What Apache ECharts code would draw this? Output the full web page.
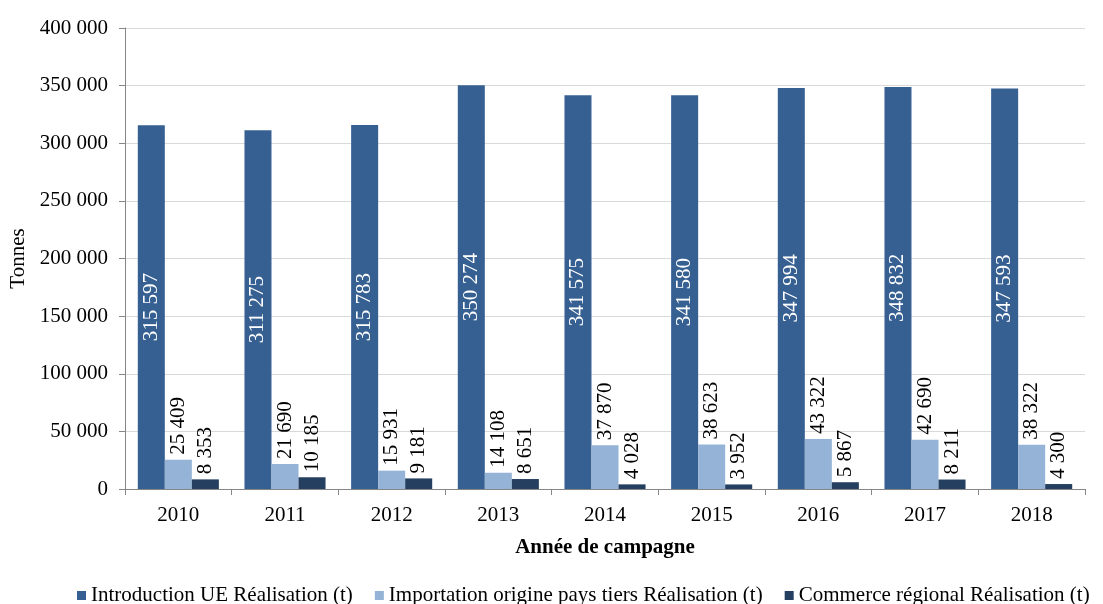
<!DOCTYPE html>
<html><head><meta charset="utf-8">
<script src="https://cdn.jsdelivr.net/npm/echarts@6/dist/echarts.min.js"></script>
<style>html,body{margin:0;padding:0;background:#fff}#c{width:1103px;height:604px}</style>
</head><body><div id="c"></div>
<script>
const categories = ['2010','2011','2012','2013','2014','2015','2016','2017','2018'];
const introUE = [315597, 311275, 315783, 350274, 341575, 341580, 347994, 348832, 347593];
const importTiers = [25409, 21690, 15931, 14108, 37870, 38623, 43322, 42690, 38322];
const commerceReg = [8353, 10185, 9181, 8651, 4028, 3952, 5867, 8211, 4300];
const seriesNames = ['Introduction UE Réalisation (t)', 'Importation origine pays tiers Réalisation (t)', 'Commerce régional Réalisation (t)'];

const fmt = v => String(v).replace(/\B(?=(\d{3})+(?!\d))/g, ' ');
const FONT = '"Liberation Serif", "Times New Roman", serif';
const FS = 21;
const chart = echarts.init(document.getElementById('c'));
const topLabel = {show:true, position:'top', rotate:90, align:'left', verticalAlign:'middle', distance:5,
  color:'#000', fontFamily:FONT, fontSize:FS, formatter:p=>fmt(p.value)};
chart.setOption({
  animation:false,
  textStyle:{fontFamily:FONT},
  grid:{left:125, right:18, top:28, bottom:115, outerBoundsMode:'none', containLabel:false},
  legend:{top:580, left:72, itemWidth:9, itemHeight:9, itemGap:22,
    textStyle:{fontFamily:FONT, fontSize:FS, color:'#000'}, icon:'rect',
    data:seriesNames},
  xAxis:{type:'category', data:categories,
    name:'Année de campagne', nameLocation:'middle', nameGap:48,
    nameTextStyle:{fontFamily:FONT, fontSize:FS, fontWeight:'bold', color:'#000'},
    axisLine:{lineStyle:{color:'#868686'}},
    axisTick:{show:true, length:6, lineStyle:{color:'#868686'}},
    axisLabel:{fontFamily:FONT, fontSize:FS, color:'#000', margin:16}},
  yAxis:{type:'value', min:0, max:400000, interval:50000,
    name:'Tonnes', nameLocation:'middle', nameGap:96, nameRotate:90,
    nameTextStyle:{fontFamily:FONT, fontSize:FS, color:'#000'},
    axisLine:{show:true, lineStyle:{color:'#868686'}},
    axisTick:{show:true, length:6, lineStyle:{color:'#868686'}},
    splitLine:{lineStyle:{color:'#d9d9d9'}},
    axisLabel:{fontFamily:FONT, fontSize:FS, color:'#000', margin:17, formatter:v=>fmt(v)}},
  series:[
    {name:seriesNames[0], type:'bar', data:introUE, barGap:'0%', barCategoryGap:'24%',
     itemStyle:{color:'#376092'},
     label:{show:true, position:'inside', rotate:90, color:'#fff', fontFamily:FONT, fontSize:FS, formatter:p=>fmt(p.value)}},
    {name:seriesNames[1], type:'bar', data:importTiers, barGap:'0%', barCategoryGap:'24%',
     itemStyle:{color:'#95b3d7'}, label:topLabel},
    {name:seriesNames[2], type:'bar', data:commerceReg, barGap:'0%', barCategoryGap:'24%',
     itemStyle:{color:'#243f60'}, label:topLabel}
  ]
});
</script></body></html>
